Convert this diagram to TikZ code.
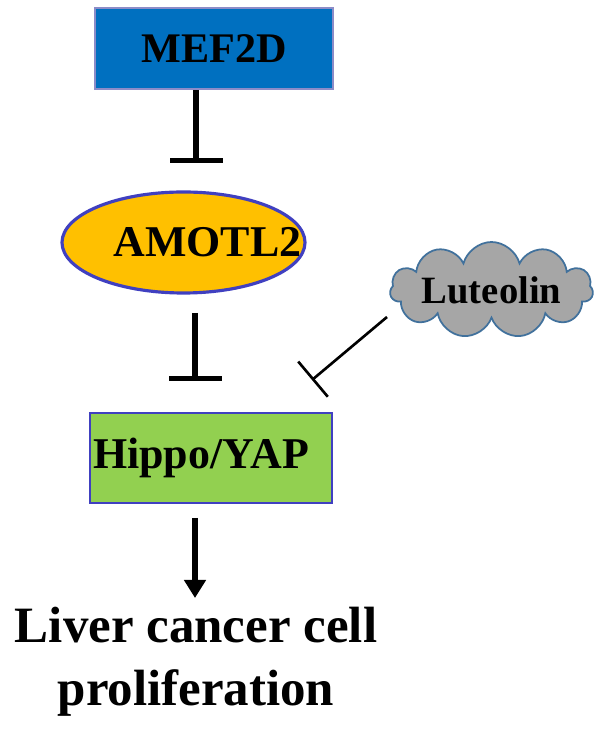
\documentclass[tikz,border=0pt]{standalone}
\usepackage{fontspec}
\setmainfont{Liberation Serif}
\usetikzlibrary{shapes.geometric,shapes.symbols,arrows.meta}
\definecolor{mefblue}{HTML}{0070C0}
\definecolor{mefedge}{HTML}{8C8CC8}
\definecolor{amogold}{HTML}{FFC000}
\definecolor{blueedge}{HTML}{4040C0}
\definecolor{yapgreen}{HTML}{92D050}
\definecolor{lutgray}{HTML}{A6A6A6}
\definecolor{lutedge}{HTML}{41719C}
\begin{document}
\begin{tikzpicture}[font=\bfseries,
		box/.style={draw,line width=1.5pt,inner sep=0pt},
		inh/.style={line width=3pt,-{Bar[width=1.06cm]}},
		act/.style={line width=3pt,-{Triangle[width=0.42cm,length=0.36cm]}}]
	\useasboundingbox (0,0) rectangle (12,14.58);
	% nodes
	\node[box,draw=mefedge,fill=mefblue,minimum width=4.76cm,minimum height=1.62cm,
		font=\bfseries\fontsize{24}{28}\selectfont] (mef) at (4.28,13.61) {MEF2D};
	\node[box,ellipse,draw=blueedge,line width=1.8pt,fill=amogold,minimum width=4.86cm,minimum height=2.02cm,
		font=\bfseries\fontsize{25}{30}\selectfont] (amotl) at (3.67,9.73) {\makebox[0pt]{\hspace{0.96cm}AMOTL2}};
	\node[box,draw=blueedge,fill=yapgreen,minimum width=4.84cm,minimum height=1.8cm,
		font=\bfseries\fontsize{25}{30}\selectfont] (hippo) at (4.22,5.42) {\makebox[0pt]{Hippo/YAP\hspace{0.4cm}}};
	\node[cloud,cloud puffs=11,cloud ignores aspect,draw=lutedge,fill=lutgray,line width=1pt,
		minimum width=4.06cm,minimum height=1.92cm,inner sep=0pt,
		font=\bfseries\fontsize{22}{26}\selectfont] (lut) at (9.83,8.78) {Luteolin};
	\node[align=center,anchor=north,inner sep=0pt,
		font=\bfseries\fontsize{29}{35.7}\selectfont] (prolif) at (3.92,2.44) {Liver cancer cell\\proliferation};
	% connectors
	\coordinate (mefbar) at (3.92,11.32);
	\coordinate (amofrom) at (3.9,8.32);
	\coordinate (amobar) at (3.9,6.96);
	\coordinate (lutfrom) at (7.74,8.24);
	\coordinate (lutbar) at (6.24,6.98);
	\coordinate (yapfrom) at (3.9,4.22);
	\coordinate (yapto) at (3.9,2.62);
	\draw[inh] (mef.south -| mefbar) -- (mefbar);
	\draw[inh] (amofrom) -- (amobar);
	\draw[line width=1.5pt,-{Bar[width=0.92cm]}] (lutfrom) -- (lutbar);
	\draw[act] (yapfrom) -- (yapto);
\end{tikzpicture}
\end{document}
